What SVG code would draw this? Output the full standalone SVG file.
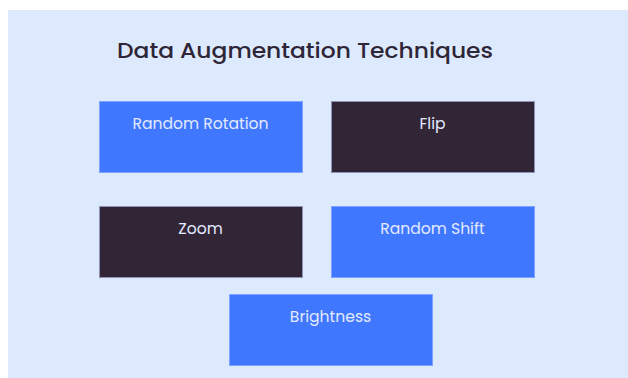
<svg xmlns="http://www.w3.org/2000/svg" width="628" height="378" viewBox="0 0 628 378">
  <style>
    .title { font-family: Poppins, Inter, "Noto Sans", sans-serif; font-size: 22px; fill: #2e2536; font-weight: 500; }
    .label { font-family: Poppins, Inter, "Noto Sans", sans-serif; font-size: 15.6px; fill: #e3e9ff; text-anchor: middle; }
    .blue { fill: #3f78ff; stroke: #7ea2ff; stroke-width: 1; }
    .dark { fill: #312536; stroke: #8f93b8; stroke-width: 1; }
  </style>
  <rect x="0" y="0" width="628" height="378" fill="#ffffff"/>
  <rect x="8" y="10" width="620" height="368" fill="#dde9fd"/>
  <text class="title" x="117" y="58" textLength="376" lengthAdjust="spacingAndGlyphs">Data Augmentation Techniques</text>
  <g id="connectors"></g>
  <g id="random-rotation">
    <rect class="blue" x="99.5" y="101.5" width="203" height="71"/>
    <text class="label" x="200.5" y="129">Random Rotation</text>
  </g>
  <g id="flip">
    <rect class="dark" x="331.5" y="101.5" width="203" height="71"/>
    <text class="label" x="432.5" y="129">Flip</text>
  </g>
  <g id="zoom">
    <rect class="dark" x="99.5" y="206.5" width="203" height="71"/>
    <text class="label" x="200.5" y="234">Zoom</text>
  </g>
  <g id="random-shift">
    <rect class="blue" x="331.5" y="206.5" width="203" height="71"/>
    <text class="label" x="432.5" y="234">Random Shift</text>
  </g>
  <g id="brightness">
    <rect class="blue" x="229.5" y="294.5" width="203" height="71"/>
    <text class="label" x="330.5" y="322">Brightness</text>
  </g>
</svg>
